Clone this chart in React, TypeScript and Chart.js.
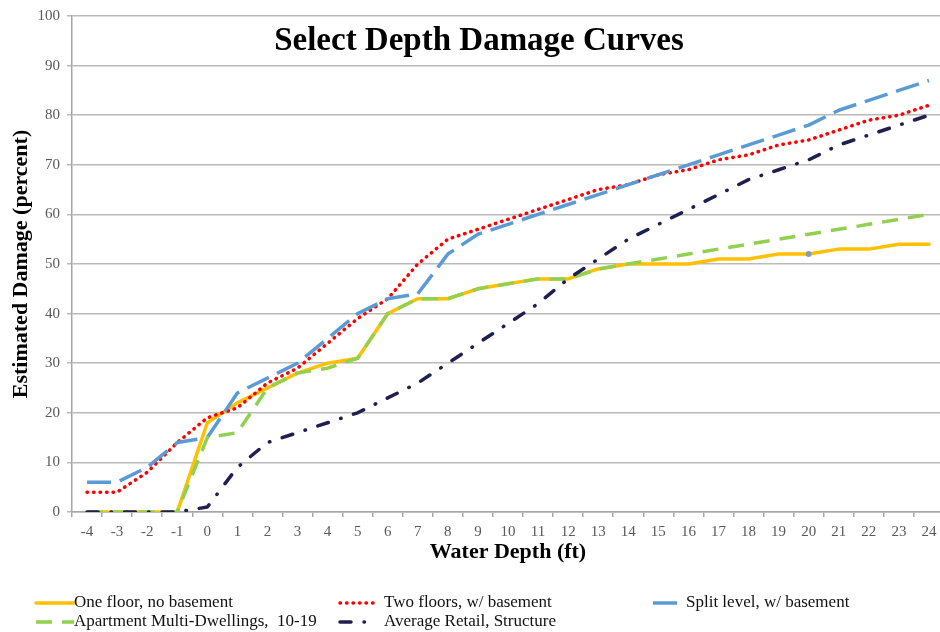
import { useEffect, useRef } from 'react';
import { Chart, registerables } from 'chart.js';

Chart.register(...registerables);

// ---- data ----
const depthLabels = ['-4', '-3', '-2', '-1', '0', '1', '2', '3', '4', '5', '6', '7', '8', '9', '10', '11', '12', '13', '14', '15', '16', '17', '18', '19', '20', '21', '22', '23', '24'];

const oneFloorNoBasement = [0, 0, 0, 0, 18, 22, 25, 28, 30, 31, 40, 43, 43, 45, 46, 47, 47, 49, 50, 50, 50, 51, 51, 52, 52, 53, 53, 54, 54];
const twoFloorsBasement = [4, 4, 8, 14, 19, 21, 26, 29, 34, 39, 43, 50, 55, 57, 59, 61, 63, 65, 66, 68, 69, 71, 72, 74, 75, 77, 79, 80, 82];
const splitLevelBasement = [6, 6, 9, 14, 15, 24, 27, 30, 35, 40, 43, 44, 52, 56, 58, 60, 62, 64, 66, 68, 70, 72, 74, 76, 78, 81, 83, 85, 87];
const apartmentMulti = [0, 0, 0, 0, 15, 16, 25, 28, 29, 31, 40, 43, 43, 45, 46, 47, 47, 49, 50, 51, 52, 53, 54, 55, 56, 57, 58, 59, 60];
const averageRetail = [0, 0, 0, 0, 1, 9, 14, 16, 18, 20, 23, 26, 30, 34, 38, 42, 47, 51, 55, 58, 61, 64, 67, 69, 71, 74, 76, 78, 80];

const seriesNames = [
  'One floor, no basement',
  'Two floors, w/ basement',
  'Split level, w/ basement',
  'Apartment Multi-Dwellings,  10-19',
  'Average Retail, Structure',
];

const yTickValues = [0, 10, 20, 30, 40, 50, 60, 70, 80, 90, 100];

const chartTitle = 'Select Depth Damage Curves';
const xAxisTitle = 'Water Depth (ft)';
const yAxisTitle = 'Estimated Damage (percent)';

// stray marker drawn on the one-floor curve at this depth label
const markedDepth = '20';

// ---- styles ----
const SERIF = "'Liberation Serif', 'Times New Roman', serif";
const ORANGE = '#FFC000';
const RED = '#FF0000';
const BLUE = '#5B9BD5';
const GREEN = '#92D050';
const NAVY = '#1F2050';

const styles = [
  { color: ORANGE, dash: [] as number[], cap: 'round' as CanvasLineCap },
  { color: RED, dash: [0.5, 6], cap: 'round' as CanvasLineCap },
  { color: BLUE, dash: [24, 9], cap: 'butt' as CanvasLineCap },
  { color: GREEN, dash: [16, 10], cap: 'butt' as CanvasLineCap },
  { color: NAVY, dash: [11, 13, 0.5, 13], cap: 'round' as CanvasLineCap },
];

export default function App() {
  const ref = useRef<HTMLCanvasElement>(null);

  useEffect(() => {
    if (!ref.current) return;

    const titlePlugin = {
      id: 'customTitle',
      afterDraw(chart: any) {
        const ctx = chart.ctx;
        ctx.save();
        ctx.font = `bold 33px ${SERIF}`;
        ctx.fillStyle = '#000';
        ctx.textAlign = 'center';
        ctx.textBaseline = 'alphabetic';
        ctx.fillText(chartTitle, 479, 50);
        ctx.restore();
      },
    };

    const legendLayout = [
      { s: 0, x1: 36, x2: 74, tx: 74, y: 603 },
      { s: 1, x1: 340, x2: 376, tx: 384, y: 603 },
      { s: 2, x1: 653, x2: 677, tx: 686, y: 603 },
      { s: 3, x1: 36, x2: 74, tx: 74, y: 622 },
      { s: 4, x1: 340, x2: 368, tx: 384, y: 622 },
    ];

    const legendPlugin = {
      id: 'customLegend',
      afterDraw(chart: any) {
        const ctx = chart.ctx;
        ctx.save();
        for (const item of legendLayout) {
          const st = styles[item.s];
          ctx.beginPath();
          ctx.strokeStyle = st.color;
          ctx.lineWidth = 3.5;
          ctx.lineCap = st.cap;
          ctx.setLineDash(st.dash);
          ctx.moveTo(item.x1, item.y);
          ctx.lineTo(item.x2, item.y);
          ctx.stroke();
          ctx.setLineDash([]);
          ctx.font = `17px ${SERIF}`;
          ctx.fillStyle = '#111';
          ctx.textAlign = 'left';
          ctx.textBaseline = 'middle';
          ctx.fillText(seriesNames[item.s], item.tx, item.y);
        }
        ctx.restore();
      },
    };

    const seriesData = [oneFloorNoBasement, twoFloorsBasement, splitLevelBasement, apartmentMulti, averageRetail];
    const drawOrder = [4, 3, 2, 1, 0];
    const markIndex = depthLabels.indexOf(markedDepth);

    const datasets = seriesData.map((d, i) => ({
      label: seriesNames[i],
      data: d,
      borderColor: styles[i].color,
      backgroundColor: styles[i].color,
      borderWidth: 3.5,
      borderDash: styles[i].dash,
      borderCapStyle: styles[i].cap,
      borderJoinStyle: 'round' as CanvasLineJoin,
      pointRadius: i === 0 ? (c: any) => (c.dataIndex === markIndex ? 3 : 0) : 0,
      pointBackgroundColor: '#8A9BB0',
      pointBorderWidth: 0,
      pointHoverRadius: 0,
      tension: 0,
      fill: false,
      order: drawOrder[i],
    }));

    const chart = new Chart(ref.current, {
      type: 'line',
      data: { labels: depthLabels, datasets },
      plugins: [titlePlugin, legendPlugin],
      options: {
        animation: false,
        responsive: false,
        maintainAspectRatio: false,
        layout: { padding: { top: 15, right: 1, bottom: 66, left: 0 } },
        plugins: {
          legend: { display: false },
          title: { display: false },
          tooltip: { enabled: false },
        },
        scales: {
          x: {
            type: 'category',
            offset: true,
            grid: {
              display: true,
              offset: true,
              drawOnChartArea: false,
              drawTicks: true,
              tickLength: 5,
              color: '#A6A6A6',
              lineWidth: 1.5,
            },
            border: { display: true, color: '#A6A6A6', width: 1.5 },
            ticks: {
              font: { family: SERIF, size: 15 },
              color: '#595959',
              padding: 6,
              maxRotation: 0,
              autoSkip: false,
            },
            title: {
              display: true,
              text: xAxisTitle,
              font: { family: SERIF, size: 22, weight: 'bold' },
              color: '#000',
              padding: { top: 0, bottom: 0 },
            },
            afterFit: (s: any) => {
              s.height = 54;
            },
          },
          y: {
            min: 0,
            max: 100,
            afterBuildTicks: (s: any) => {
              s.ticks = yTickValues.map((v) => ({ value: v }));
            },
            grid: {
              color: '#BABABA',
              lineWidth: 1.5,
              drawTicks: true,
              tickLength: 5,
            },
            border: { display: true, color: '#A6A6A6', width: 1.5 },
            ticks: {
              font: { family: SERIF, size: 15 },
              color: '#595959',
              padding: 7,
            },
            title: {
              display: true,
              text: yAxisTitle,
              font: { family: SERIF, size: 22, weight: 'bold' },
              color: '#000',
              padding: { top: 8, bottom: 0 },
            },
            afterFit: (s: any) => {
              s.width = 72;
            },
          },
        },
      } as any,
    });

    return () => chart.destroy();
  }, []);

  return (
    <div
      style={{
        position: 'absolute',
        left: 0,
        top: 0,
        width: 940,
        height: 632,
        overflow: 'hidden',
        background: '#fff',
      }}
    >
      <canvas ref={ref} width={945} height={632} style={{ display: 'block', width: 945, height: 632 }} />
    </div>
  );
}
